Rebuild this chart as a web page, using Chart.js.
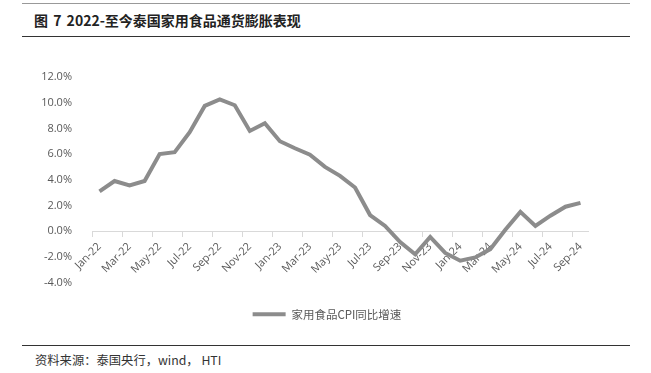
<!DOCTYPE html>
<html>
<head>
<meta charset="utf-8">
<script src="https://cdn.jsdelivr.net/npm/chart.js@4"></script>
<style>
  body { margin: 0; width: 651px; height: 373px; background: #fff; position: relative; overflow: hidden; font-family: "Noto Sans CJK SC", sans-serif; }
  .rule { position: absolute; left: 22px; width: 608px; }
  #title { position: absolute; left: 34px; top: 10px; font-size: 14px; font-weight: bold; color: #222; white-space: nowrap; word-spacing: 2px; }
  #source { position: absolute; left: 35px; top: 351px; font-size: 12.3px; color: #333; white-space: nowrap; }
  #wrap { position: absolute; left: 0; top: 40px; width: 651px; height: 300px; }
</style>
</head>
<body>
<div class="rule" style="top:3px;border-top:1px solid #999;"></div>
<div id="title">图 7 2022-至今泰国家用食品通货膨胀表现</div>
<div class="rule" style="top:36px;border-top:1px solid #333;"></div>
<div id="wrap"><canvas id="cpiChart"></canvas></div>
<div class="rule" style="top:345px;border-top:1px solid #333;"></div>
<div id="source">资料来源：泰国央行，wind， HTI</div>
<script>
// 月份（2022年1月 - 2024年9月）
const months = [
    'Jan-22', 'Feb-22', 'Mar-22', 'Apr-22', 'May-22', 'Jun-22', 'Jul-22', 'Aug-22', 'Sep-22', 'Oct-22', 'Nov-22', 'Dec-22',
    'Jan-23', 'Feb-23', 'Mar-23', 'Apr-23', 'May-23', 'Jun-23', 'Jul-23', 'Aug-23', 'Sep-23', 'Oct-23', 'Nov-23', 'Dec-23',
    'Jan-24', 'Feb-24', 'Mar-24', 'Apr-24', 'May-24', 'Jun-24', 'Jul-24', 'Aug-24', 'Sep-24'
];

// 家用食品CPI同比增速 (%)
const foodCpi = [
    3.1, 3.9, 3.55, 3.9, 6.0, 6.15, 7.7, 9.75, 10.25, 9.8, 7.8, 8.4,
    7.0, 6.45, 5.95, 5.0, 4.3, 3.4, 1.25, 0.4, -0.85, -1.8, -0.45, -1.7,
    -2.3, -2.05, -1.4, 0.1, 1.5, 0.4, 1.2, 1.9, 2.2
];

const seriesName = '家用食品CPI同比增速';
const yTicks = { min: -4, max: 12, step: 2 };

const lineColor = '#8c8c8c';
const textColor = '#595959';

// 图例居中到整张图（而不是绘图区）
const legendShift = {
    id: 'legendShift',
    afterLayout(c) {
        c.legend.left += 33;
        c.legend.right += 33;
    }
};

const ctx = document.getElementById('cpiChart').getContext('2d');
const chart = new Chart(ctx, {
    type: 'line',
    data: {
        labels: months,
        datasets: [{
            label: seriesName,
            data: foodCpi,
            borderColor: lineColor,
            backgroundColor: lineColor,
            borderWidth: 4,
            pointRadius: 0,
            tension: 0
        }]
    },
    plugins: [legendShift],
    options: {
        responsive: true,
        maintainAspectRatio: false,
        animation: false,
        layout: { padding: { left: 0, right: 63, top: 37, bottom: 10 } },
        plugins: {
            tooltip: { enabled: false },
            legend: {
                position: 'bottom',
                labels: {
                    color: textColor,
                    font: { family: '"Noto Sans CJK SC", sans-serif', size: 11.5 },
                    boxWidth: 33,
                    boxHeight: 4,
                    padding: 26,
                    generateLabels: () => [{
                        text: seriesName,
                        fillStyle: lineColor,
                        strokeStyle: lineColor,
                        lineWidth: 0,
                        fontColor: textColor,
                        datasetIndex: 0
                    }]
                }
            }
        },
        scales: {
            x: {
                position: { y: 0 },
                offset: true,
                grid: {
                    offset: true,
                    drawOnChartArea: false,
                    tickLength: 5,
                    color: (c) => (c.index % 2 === 0 ? '#d9d9d9' : 'rgba(0,0,0,0)')
                },
                border: { color: '#d9d9d9' },
                ticks: {
                    autoSkip: false,
                    maxRotation: 45,
                    minRotation: 45,
                    padding: 4,
                    color: textColor,
                    font: { family: '"Open Sans", sans-serif', size: 11 },
                    callback: function (value, index) {
                        return index % 2 === 0 ? this.getLabelForValue(value) : '';
                    }
                }
            },
            y: {
                min: yTicks.min,
                max: yTicks.max,
                grid: { display: false },
                border: { display: false },
                afterFit: (scale) => { scale.width = 92; },
                ticks: {
                    stepSize: yTicks.step,
                    padding: 12,
                    color: textColor,
                    font: { family: '"Open Sans", sans-serif', size: 11 },
                    callback: (v) => v.toFixed(1) + '%'
                }
            }
        }
    }
});
</script>
</body>
</html>
